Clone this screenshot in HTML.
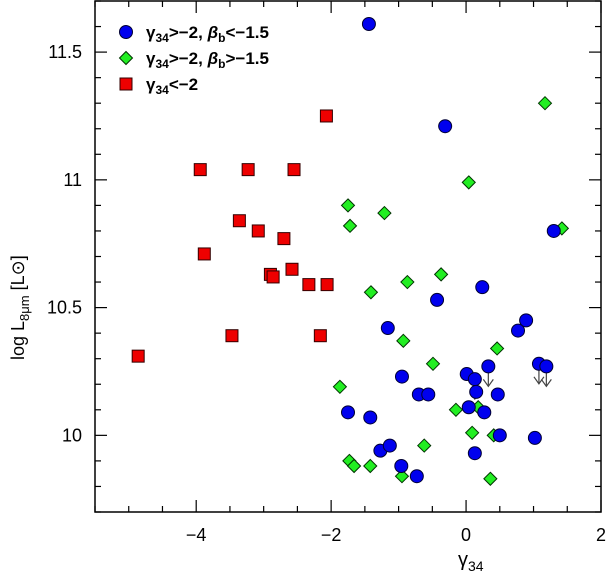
<!DOCTYPE html>
<html><head><meta charset="utf-8"><style>
body{margin:0;background:#fff}
svg text{font-family:"Liberation Sans",sans-serif;fill:#000}
</style></head><body>
<svg id="chart" width="612" height="572" viewBox="0 0 612 572" xmlns="http://www.w3.org/2000/svg"></svg>
<script>
const blueX=[-1.44,-0.31,1.30,0.24,-0.43,-1.16,0.89,0.77,1.08,1.19,0.33,0.01,0.13,0.15,0.47,-0.95,-0.70,-0.56,-1.75,-1.42,0.04,0.27,0.50,1.02,-1.27,-1.13,0.13,-0.96,-0.73];
const blueY=[11.61,11.21,10.80,10.58,10.53,10.42,10.45,10.41,10.28,10.27,10.27,10.24,10.22,10.17,10.16,10.23,10.16,10.16,10.09,10.07,10.11,10.09,10.00,9.99,9.94,9.96,9.93,9.88,9.84];
const greenX=[1.17,0.04,-1.75,-1.21,-1.72,1.42,-0.37,-0.87,-1.41,-0.93,-0.49,0.46,-1.87,-0.15,0.18,0.09,0.41,-1.73,-1.66,-1.42,-0.62,-0.95,0.36];
const greenY=[11.30,10.99,10.90,10.87,10.82,10.81,10.63,10.60,10.56,10.37,10.28,10.34,10.19,10.10,10.11,10.01,10.00,9.90,9.88,9.88,9.96,9.84,9.83];
const redX=[-4.86,-3.94,-3.88,-3.23,-3.36,-3.08,-2.70,-2.55,-2.90,-2.86,-2.58,-2.33,-2.06,-2.07,-2.16,-3.47];
const redY=[10.31,11.04,10.71,11.04,10.84,10.80,10.77,11.04,10.63,10.62,10.65,10.59,10.59,11.25,10.39,10.39];
const limitX=[0.33,0.13,1.08,1.19];
const limitY=[10.27,10.22,10.28,10.27];
const xTicks=[-4,-2,0,2];
const yTicks=[10,10.5,11,11.5];

const L=95,R=601,T=1,B=512,X0=-5.5,X1=2,Y0=9.7,Y1=11.7;
const sx=v=>L+(v-X0)/(X1-X0)*(R-L);
const sy=v=>B-(v-Y0)/(Y1-Y0)*(B-T);
const svg=document.getElementById('chart');
const NS='http://www.w3.org/2000/svg';
function mk(tag,attrs,parent){const e=document.createElementNS(NS,tag);for(const k in attrs)e.setAttribute(k,attrs[k]);(parent||svg).appendChild(e);return e;}

const axes=mk('g',{});


const frame=mk('rect',{x:L,y:T,width:R-L,height:B-T,fill:'none',stroke:'#000','stroke-width':1.5},axes);


// x ticks
for(let i=0;i<=15;i++){const v=X0+i*0.5;const x=sx(v);const major=Math.abs(v%2)<1e-9;const len=major?12:6;
 mk('line',{x1:x,x2:x,y1:B,y2:B-len,stroke:'#000','stroke-width':1.2},axes);
 mk('line',{x1:x,x2:x,y1:T,y2:T+len,stroke:'#000','stroke-width':1.2},axes);}
for(let i=0;i<=20;i++){const v=Y0+i*0.1;const y=sy(v);const major=Math.abs((v*2)-Math.round(v*2))<1e-6;const len=major?12:6;
 mk('line',{x1:L,x2:L+len,y1:y,y2:y,stroke:'#000','stroke-width':1.2},axes);
 mk('line',{x1:R,x2:R-len,y1:y,y2:y,stroke:'#000','stroke-width':1.2},axes);}
xTicks.forEach(v=>{const t=mk('text',{x:sx(v),y:541,'font-size':18,'text-anchor':'middle'},axes);t.textContent=(v<0?'\u2212'+(-v):String(v));
 
 });
yTicks.forEach(v=>{const t=mk('text',{x:82,y:sy(v)+6,'font-size':18,'text-anchor':'end'},axes);t.textContent=String(v);
 
 });
const xl=mk('text',{x:458,y:566,'font-size':20},axes);xl.innerHTML='γ<tspan font-size="14" dy="5">34</tspan>';


const yl=mk('text',{x:0,y:0,'font-size':18,transform:'translate(24 360) rotate(-90)'},axes);yl.innerHTML='log L<tspan font-size="13" dy="5">8μm</tspan><tspan dy="-5"> [L⊙]</tspan>';



// upper-limit arrows
limitX.forEach((v,i)=>{const x=sx(v),y=sy(limitY[i]);const g=mk('g',{stroke:'#444','stroke-width':1.2,fill:'none'});
 
 
 mk('line',{x1:x,x2:x,y1:y,y2:y+20},g);mk('polyline',{points:`${x-5},${y+13} ${x},${y+20} ${x+5},${y+13}`},g);});

function circle(x,y,g){return mk('circle',{cx:x,cy:y,r:6.5,fill:'#0000ee',stroke:'#000033','stroke-width':1},g);}
function diamond(x,y,g){return mk('polygon',{points:`${x},${y-6.5} ${x+6.5},${y} ${x},${y+6.5} ${x-6.5},${y}`,fill:'#22ee22',stroke:'#003300','stroke-width':1},g);}
function square(x,y,g){return mk('rect',{x:x-6,y:y-6,width:12,height:12,fill:'#ee0000',stroke:'#330000','stroke-width':1},g);}

const gr=mk('g',{});
redX.forEach((v,i)=>{const m=square(sx(v),sy(redY[i]),gr);
 
 });
const gg=mk('g',{});
greenX.forEach((v,i)=>{const m=diamond(sx(v),sy(greenY[i]),gg);
 
 });
const gb=mk('g',{});
blueX.forEach((v,i)=>{const m=circle(sx(v),sy(blueY[i]),gb);
 
 });

// legend
const lg=mk('g',{});
const items=[['c','γ<tspan font-size="12" dy="4">34</tspan><tspan dy="-4">&gt;−2,  </tspan><tspan font-style="italic" font-weight="bold">β</tspan><tspan font-size="12" dy="4">b</tspan><tspan dy="-4">&lt;−1.5</tspan>'],
 ['d','γ<tspan font-size="12" dy="4">34</tspan><tspan dy="-4">&gt;−2,  </tspan><tspan font-style="italic" font-weight="bold">β</tspan><tspan font-size="12" dy="4">b</tspan><tspan dy="-4">&gt;−1.5</tspan>'],
 ['s','γ<tspan font-size="12" dy="4">34</tspan><tspan dy="-4">&lt;−2</tspan>']];
items.forEach((it,i)=>{const y=32+i*26;const e=mk('g',{},lg);
 
 
 if(it[0]=='c')circle(126,y,e);else if(it[0]=='d')diamond(126,y,e);else square(126,y,e);
 const t=mk('text',{x:146,y:y+6,'font-size':17,'font-weight':'bold'},e);t.innerHTML=it[1];});
</script>
</body></html>
